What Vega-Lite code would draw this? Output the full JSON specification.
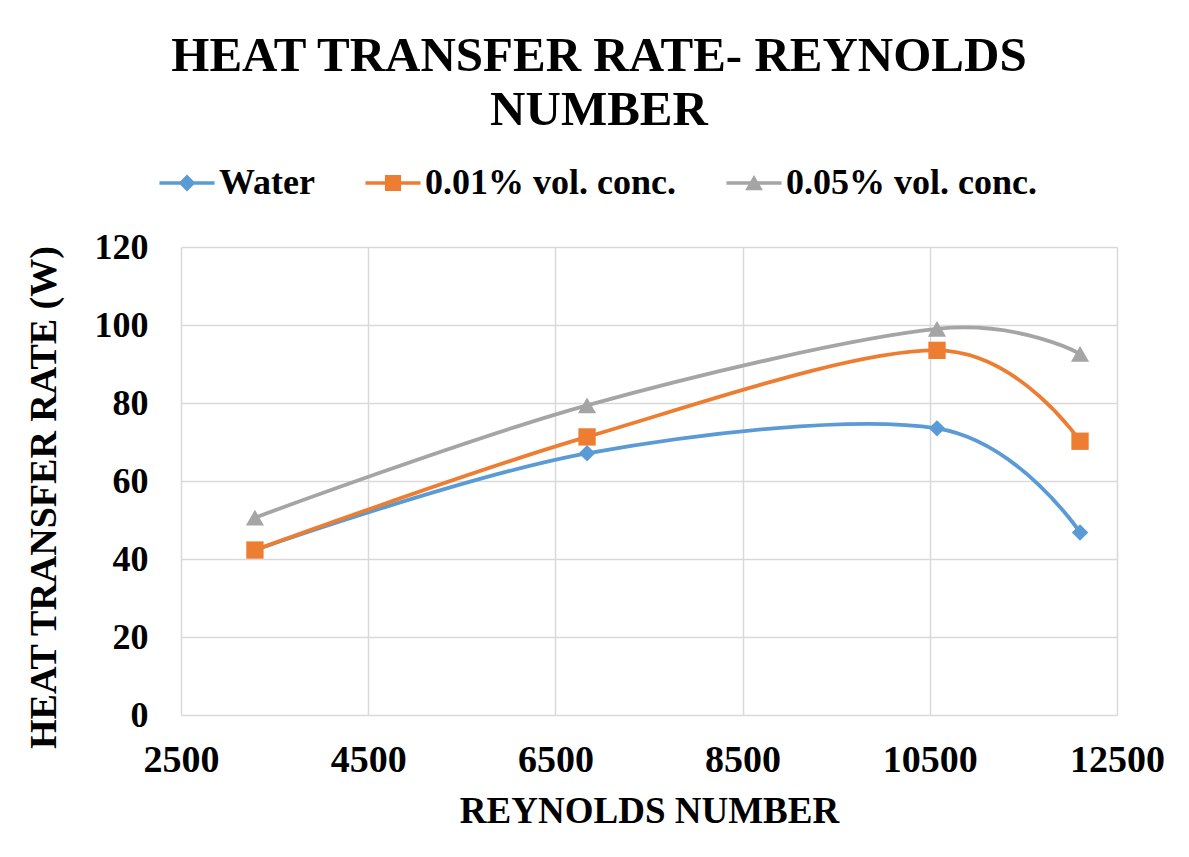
{
  "$schema": "https://vega.github.io/schema/vega-lite/v6.json",
  "width": 936,
  "height": 468,
  "autosize": {"type": "none"},
  "padding": {"left": 181, "top": 247, "right": 72, "bottom": 142},
  "background": "white",
  "config": {"font": "Liberation Serif", "view": {"stroke": null}},
  "title": {
    "text": ["HEAT TRANSFER RATE- REYNOLDS", "NUMBER"],
    "fontSize": 49,
    "fontWeight": "bold",
    "font": "Liberation Serif",
    "color": "black",
    "anchor": "middle",
    "dx": -50,
    "offset": 30,
    "lineHeight": 54
  },
  "data": {
    "values": [
      {"re": 3290, "q": 42.3, "series": "Water"},
      {"re": 6838, "q": 67.1, "series": "Water"},
      {"re": 10577, "q": 73.5, "series": "Water"},
      {"re": 12105, "q": 46.8, "series": "Water"},
      {"re": 3290, "q": 42.3, "series": "0.01% vol. conc."},
      {"re": 6838, "q": 71.3, "series": "0.01% vol. conc."},
      {"re": 10577, "q": 93.5, "series": "0.01% vol. conc."},
      {"re": 12105, "q": 70.2, "series": "0.01% vol. conc."},
      {"re": 3290, "q": 50.6, "series": "0.05% vol. conc."},
      {"re": 6838, "q": 79.4, "series": "0.05% vol. conc."},
      {"re": 10577, "q": 99.0, "series": "0.05% vol. conc."},
      {"re": 12105, "q": 92.6, "series": "0.05% vol. conc."}
    ]
  },
  "encoding": {
    "x": {
      "field": "re",
      "type": "quantitative",
      "scale": {"domain": [2500, 12500], "nice": false, "zero": false},
      "axis": {
        "values": [2500, 4500, 6500, 8500, 10500, 12500],
        "format": "d",
        "title": "REYNOLDS NUMBER",
        "titleFont": "Liberation Serif",
        "titleFontSize": 37,
        "titleFontWeight": "bold",
        "titleColor": "black",
        "titlePadding": 14,
        "labelFont": "Liberation Serif",
        "labelFontSize": 38,
        "labelFontWeight": "bold",
        "labelColor": "black",
        "labelPadding": 26,
        "labelFlush": false,
        "labelOverlap": false,
        "ticks": false,
        "domain": false,
        "grid": true,
        "gridColor": "#D9D9D9",
        "gridWidth": 1.5
      }
    },
    "y": {
      "field": "q",
      "type": "quantitative",
      "scale": {"domain": [0, 120], "nice": false},
      "axis": {
        "values": [0, 20, 40, 60, 80, 100, 120],
        "title": "HEAT TRANSFER RATE (W)",
        "titleFont": "Liberation Serif",
        "titleFontSize": 38,
        "titleFontWeight": "bold",
        "titleColor": "black",
        "titlePadding": 31,
        "titleY": 250,
        "labelFont": "Liberation Serif",
        "labelFontSize": 36,
        "labelFontWeight": "bold",
        "labelColor": "black",
        "labelPadding": 33,
        "labelFlush": false,
        "labelOverlap": false,
        "ticks": false,
        "domain": false,
        "grid": true,
        "gridColor": "#D9D9D9",
        "gridWidth": 1.5
      }
    },
    "color": {
      "field": "series",
      "type": "nominal",
      "scale": {
        "domain": ["Water", "0.01% vol. conc.", "0.05% vol. conc."],
        "range": ["#5B9BD5", "#ED7D31", "#A5A5A5"]
      },
      "legend": {
        "title": null,
        "orient": "none",
        "legendX": -12,
        "legendY": -82,
        "direction": "horizontal",
        "labelFont": "Liberation Serif",
        "labelFontSize": 36,
        "labelFontWeight": "bold",
        "labelColor": "black",
        "labelLimit": 0,
        "symbolSize": 289,
        "symbolStrokeWidth": 0,
        "labelOffset": 14,
        "columnPadding": 50,
        "encode": {
          "symbols": {
            "update": {
              "shape": {"signal": "datum.value === 'Water' ? 'M-3.24,-0.2H3.24V0.2H-3.24Z M0,-1L1,0L0,1L-1,0Z' : datum.value === '0.01% vol. conc.' ? 'M-3.24,-0.2H3.24V0.2H-3.24Z M-0.95,-0.95H0.95V0.95H-0.95Z' : 'M-3.24,-0.2H3.24V0.2H-3.24Z M0,-0.95L1.05,0.85H-1.05Z'"},
              "fill": {"scale": "color", "field": "value"},
              "stroke": {"value": "transparent"},
              "strokeWidth": {"value": 0},
              "opacity": {"value": 1}
            }
          }
        }
      }
    }
  },
  "layer": [
    {
      "mark": {"type": "line", "interpolate": "cardinal", "strokeWidth": 3.8},
      "encoding": {"detail": {"field": "series"}}
    },
    {
      "transform": [{"filter": "datum.series === 'Water'"}],
      "mark": {"type": "point", "filled": true, "opacity": 1, "size": 270, "shape": "diamond"}
    },
    {
      "transform": [{"filter": "datum.series === '0.01% vol. conc.'"}],
      "mark": {"type": "point", "filled": true, "opacity": 1, "size": 300, "shape": "square"}
    },
    {
      "transform": [{"filter": "datum.series === '0.05% vol. conc.'"}],
      "mark": {"type": "point", "filled": true, "opacity": 1, "size": 330, "shape": "triangle-up"}
    }
  ]
}
